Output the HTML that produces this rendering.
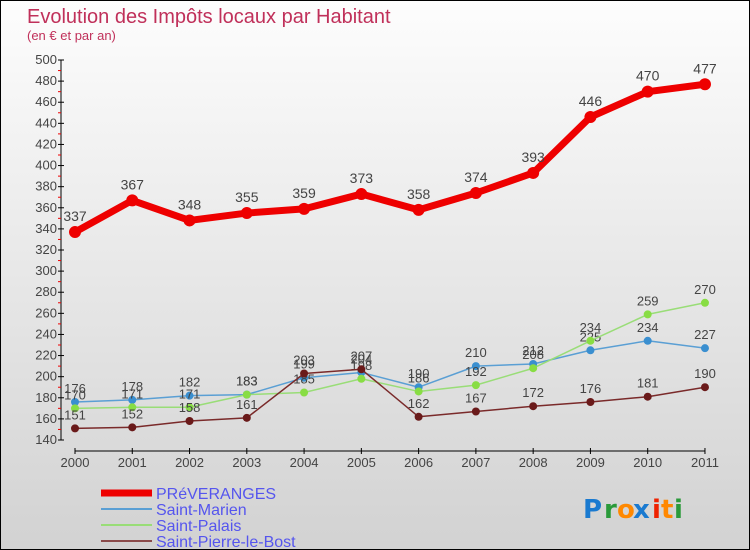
<!DOCTYPE html>
<html><head><meta charset="utf-8"><style>
body{margin:0}
#c{width:748px;height:548px;border:1px solid #000;background:linear-gradient(#fdfdfd,#d2d2d2);position:relative;overflow:hidden;font-family:"Liberation Sans","DejaVu Sans",sans-serif}
</style></head><body>
<div id="c">
<svg id="s" width="748" height="548"></svg>
</div>
<script>
const years=[2000,2001,2002,2003,2004,2005,2006,2007,2008,2009,2010,2011];
const preveranges=[337,367,348,355,359,373,358,374,393,446,470,477];
const marien=[176,178,182,183,199,204,190,210,212,225,234,227];
const palais=[170,171,171,183,185,198,186,192,208,234,259,270];
const pierre=[151,152,158,161,203,207,162,167,172,176,181,190];
const yTicks=[140,160,180,200,220,240,260,280,300,320,340,360,380,400,420,440,460,480,500];
const NS='http://www.w3.org/2000/svg';
const s=document.getElementById('s');
const X=i=>74+i*57.27, Y=v=>439-(v-140)*(380/360);
function el(t,a,p){const e=document.createElementNS(NS,t);for(const k in a)e.setAttribute(k,a[k]);(p||s).appendChild(e);return e;}
function tx(x,y,str,a,p){const e=el('text',Object.assign({x:x,y:y},a),p);e.textContent=str;return e;}
let t=tx(26,22,'Evolution des Impôts locaux par Habitant',{fill:'#c0305a','font-size':20});

t=tx(26,39,'(en € et par an)',{fill:'#c0305a','font-size':13});

const ax=el('g',{});
el('line',{x1:60,y1:Y(500),x2:60,y2:Y(140),stroke:'#000'},ax);
yTicks.forEach((v,i)=>{el('line',{x1:57,x2:63,y1:Y(v),y2:Y(v),stroke:'#000'},ax);
 if(i<yTicks.length-1)el('line',{x1:57,x2:60,y1:Y(v+10),y2:Y(v+10),stroke:'#e00'},ax);
 tx(56,Y(v)+4,v,{'text-anchor':'end','font-size':13,fill:'#444'},ax);});
const xa=el('g',{});
el('line',{x1:74,x2:X(11),y1:450,y2:450,stroke:'#000'},xa);
years.forEach((y,i)=>{el('line',{x1:X(i),x2:X(i),y1:447,y2:453,stroke:'#000'},xa);
 tx(X(i),466,y,{'text-anchor':'middle','font-size':13,fill:'#444'},xa);});
function series(data,color,w,r,name,fs,dot){
 const g=el('g',{});
 el('polyline',{points:data.map((v,i)=>X(i)+','+Y(v)).join(' '),fill:'none',stroke:color,'stroke-width':w,'stroke-linejoin':'round'},g);
 data.forEach((v,i)=>{el('circle',{cx:X(i),cy:Y(v),r:r,fill:dot},g);
  tx(X(i),Y(v)-(r+5),v,{'text-anchor':'middle','font-size':fs,fill:'#444'},g);});
}
series(marien,'#5a9fd4',1.5,4,'series-saint-marien',13,'#3a8fd0');
series(palais,'#99dd77',1.5,4,'series-saint-palais',13,'#88dd44');
series(pierre,'#7a2a2a',1.5,4,'series-saint-pierre-le-bost',13,'#6a1a1a');
series(preveranges,'#ee0000',7,6,'series-preveranges',14,'#ee0000');
const lg=el('g',{});
[['PRéVERANGES','#ee0000',7],['Saint-Marien','#5a9fd4',2],['Saint-Palais','#99dd77',2],['Saint-Pierre-le-Bost','#8a4a4a',2]].forEach((d,i)=>{
 const y=492+i*16;el('line',{x1:100,x2:151,y1:y,y2:y,stroke:d[1],'stroke-width':d[2]},lg);
 tx(155,y+6,d[0],{'font-size':16,fill:'#5555ee'},lg);});
const lo=el('g',{});
[['P','#1a7ad0',582],['r','#2a9a3a',603],['o','#ff8800',616],['x','#1a7ad0',632],['i','#ee2200',651],['t','#ff8800',660],['i','#2a9a3a',673]].forEach(d=>{
 tx(d[2],517,d[0],{'font-size':26,fill:d[1],'font-weight':'bold','font-family':'DejaVu Sans, sans-serif'},lo);});
</script>
</body></html>
